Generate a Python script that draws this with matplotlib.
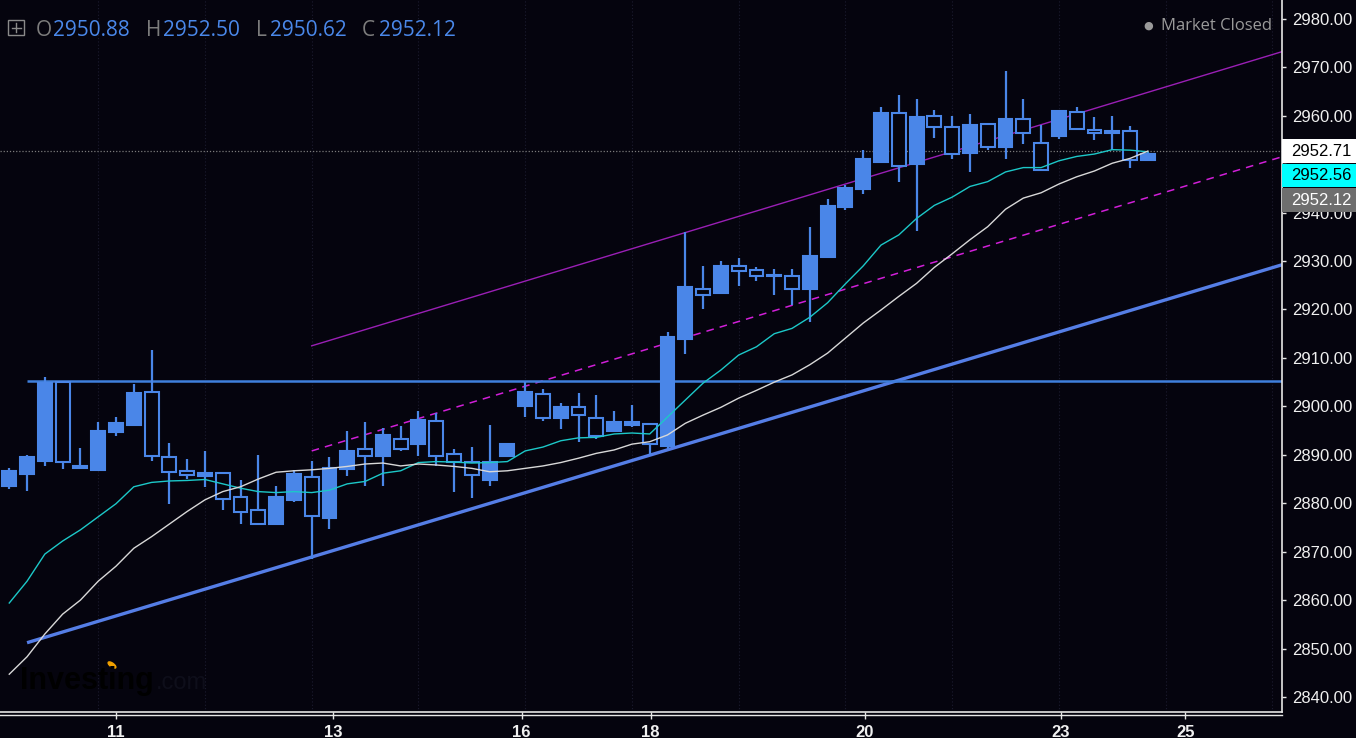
import matplotlib
matplotlib.use('Agg')
import matplotlib.pyplot as plt
from matplotlib.patches import Rectangle, Ellipse
from matplotlib.lines import Line2D
from matplotlib.transforms import blended_transform_factory, offset_copy

plt.rcParams['font.family'] = ['Liberation Sans', 'DejaVu Sans']

# 4-stunden-kerzen
opens = [2883.6, 2886.0, 2888.8, 2905.0, 2887.5, 2886.9, 2894.7, 2896.2, 2903.0, 2889.6,
         2886.6, 2885.7, 2886.2, 2881.2, 2878.7, 2875.7, 2880.7, 2885.5, 2877.0, 2887.0,
         2891.1, 2889.7, 2893.3, 2892.2, 2897.0, 2890.1, 2888.6, 2884.8, 2889.7, 2900.0,
         2902.6, 2897.5, 2899.8, 2897.6, 2895.0, 2896.2, 2896.4, 2891.8, 2913.9, 2924.3,
         2923.5, 2928.9, 2928.1, 2927.0, 2926.9, 2924.2, 2930.9, 2941.2, 2944.8, 2950.4,
         2960.5, 2950.1, 2959.9, 2957.7, 2952.4, 2958.4, 2953.6, 2959.3, 2954.4, 2955.8,
         2960.8, 2957.1, 2956.5, 2956.8, 2950.88]
highs = [2887.3, 2889.9, 2906.0, 2905.3, 2891.5, 2896.8, 2897.8, 2904.6, 2911.7, 2892.4,
         2889.2, 2890.8, 2886.3, 2884.7, 2889.9, 2883.6, 2886.9, 2888.8, 2889.6, 2894.9,
         2896.8, 2895.5, 2895.9, 2899.1, 2898.6, 2891.2, 2891.7, 2896.1, 2892.5, 2905.0,
         2903.5, 2900.6, 2902.8, 2902.4, 2899.0, 2900.3, 2896.6, 2915.4, 2936.1, 2929.0,
         2930.1, 2930.6, 2928.7, 2928.3, 2928.3, 2937.1, 2942.9, 2945.7, 2953.0, 2961.8,
         2964.3, 2963.4, 2961.2, 2960.0, 2960.4, 2958.6, 2969.3, 2963.4, 2958.1, 2961.1,
         2961.8, 2959.7, 2960.0, 2957.9, 2952.50]
lows = [2883.0, 2882.6, 2887.6, 2887.1, 2887.0, 2886.7, 2893.8, 2896.0, 2888.8, 2879.8,
        2885.1, 2883.4, 2878.6, 2875.8, 2875.6, 2875.6, 2880.3, 2868.4, 2874.6, 2885.7,
        2883.6, 2883.6, 2890.7, 2889.7, 2887.6, 2882.3, 2881.0, 2883.6, 2889.6, 2897.8,
        2896.9, 2895.3, 2892.6, 2893.2, 2894.9, 2895.8, 2889.9, 2891.2, 2910.8, 2920.0,
        2923.4, 2924.8, 2925.9, 2922.9, 2920.9, 2917.5, 2930.8, 2940.5, 2943.9, 2950.2,
        2946.4, 2936.2, 2955.4, 2951.1, 2948.3, 2952.9, 2951.1, 2954.2, 2948.6, 2955.2,
        2957.2, 2954.9, 2953.0, 2949.2, 2950.62]
closes = [2886.6, 2889.6, 2904.9, 2888.5, 2887.3, 2894.9, 2896.5, 2902.8, 2889.7, 2886.4,
          2885.8, 2886.2, 2880.8, 2878.2, 2875.8, 2881.3, 2886.0, 2877.4, 2887.2, 2890.8,
          2889.7, 2894.0, 2891.3, 2897.1, 2889.7, 2888.6, 2885.8, 2888.6, 2892.2, 2902.9,
          2897.5, 2899.9, 2898.3, 2893.9, 2896.7, 2896.7, 2892.2, 2914.4, 2924.7, 2923.0,
          2929.0, 2927.9, 2926.9, 2926.9, 2924.2, 2931.1, 2941.4, 2945.1, 2951.0, 2960.6,
          2949.6, 2959.7, 2957.7, 2952.1, 2958.1, 2953.6, 2959.3, 2956.5, 2948.7, 2960.9,
          2957.3, 2956.5, 2956.9, 2950.9, 2952.12]

# gleitende durchschnitte (tuerkis = schnell, weiss = langsam)
ma_fast = [2859.4, 2863.9, 2869.5, 2872.2, 2874.5, 2877.2, 2879.9, 2883.4, 2884.3, 2884.6,
           2884.7, 2884.9, 2884.0, 2883.1, 2882.4, 2882.2, 2882.4, 2882.2, 2882.7, 2884.0,
           2884.5, 2886.2, 2886.7, 2888.4, 2888.6, 2888.5, 2888.3, 2888.4, 2888.6, 2890.8,
           2891.6, 2892.9, 2893.5, 2893.6, 2894.3, 2894.5, 2894.3, 2897.8, 2901.3, 2904.8,
           2907.5, 2910.6, 2912.3, 2915.0, 2916.1, 2918.4, 2921.4, 2925.3, 2929.0, 2933.3,
           2935.4, 2938.8, 2941.5, 2943.2, 2945.4, 2946.4, 2948.4, 2949.3, 2949.3, 2950.7,
           2951.6, 2952.1, 2953.0, 2952.9, 2952.56]
ma_slow = [2844.7, 2848.3, 2853.0, 2857.1, 2860.0, 2863.9, 2867.0, 2870.7, 2873.1, 2875.7,
           2878.3, 2880.7, 2882.4, 2883.4, 2885.0, 2886.4, 2886.7, 2886.9, 2887.2, 2887.6,
           2888.1, 2888.3, 2887.7, 2888.1, 2887.9, 2887.6, 2887.2, 2886.5, 2886.7, 2887.2,
           2887.7, 2888.4, 2889.3, 2890.3, 2891.0, 2892.2, 2892.7, 2894.1, 2896.5, 2898.2,
           2899.8, 2901.7, 2903.3, 2905.0, 2906.5, 2908.6, 2911.0, 2914.1, 2917.2, 2919.9,
           2922.7, 2925.4, 2928.7, 2931.5, 2934.4, 2937.1, 2940.7, 2943.0, 2944.1, 2945.9,
           2947.4, 2948.6, 2950.2, 2951.2, 2952.71]

# gezeichnete linien: (start_idx, start_preis, end_idx, end_preis)
support_line = (1.0, 2851.2, 71.6, 2929.3)
channel_top = (17.0, 2912.5, 71.6, 2973.3)
channel_mid = (17.0, 2890.8, 71.6, 2951.6)
resistance_level = 2905.3
resistance_start = 1.0

day_labels = ['11', '13', '16', '18', '20', '23', '25']
day_pos = [6.0, 18.2, 28.8, 36.05, 48.1, 59.1, 66.1]

price_ticks = [2840, 2850, 2860, 2870, 2880, 2890, 2900, 2910, 2920, 2930, 2940, 2950, 2960, 2970, 2980]
hidden_ticks = [2950]  # liegt unter den kursboxen

last_labels = [('2952.71', '#ffffff', '#000000'),
               ('2952.56', '#00ffff', '#000000'),
               ('2952.12', '#6e6e6e', '#ffffff')]
ohlc = [('O', '2950.88'), ('H', '2952.50'), ('L', '2950.62'), ('C', '2952.12')]

bg = '#05040e'
blue = '#4a86e8'

W, H = 1356, 738
fig = plt.figure(figsize=(W / 100, H / 100), dpi=100, facecolor=bg)
ax = fig.add_axes([0, (H - 711.5) / H, 1282 / W, 711.5 / H])
ax.set_facecolor(bg)
ax.set_xlim(-0.52, 71.54)
ax.set_ylim(2837.0, 2983.9)

# gitter
for gx in range(5, 72, 6):
    ax.axvline(gx, color='#1c1c30', lw=0.8, ls=(0, (1, 2)), zorder=0)

# trendlinien
ax.plot([support_line[0], support_line[2]], [support_line[1], support_line[3]],
        color='#557ee6', lw=2.4, zorder=2, solid_capstyle='butt')
ax.plot([channel_top[0], channel_top[2]], [channel_top[1], channel_top[3]],
        color='#9a1fb5', lw=1.0, zorder=2)
ax.plot([channel_mid[0], channel_mid[2]], [channel_mid[1], channel_mid[3]],
        color='#d11fd8', lw=1.1, ls=(0, (5, 4)), zorder=2)
ax.plot([resistance_start, 72], [resistance_level, resistance_level],
        color='#3f7fdc', lw=1.8, zorder=2, solid_capstyle='butt')

# gleitende durchschnitte
x = list(range(len(closes)))
ax.plot(x, ma_fast, color='#1cc8c8', lw=1.0, zorder=5)
ax.plot(x, ma_slow, color='#d8d8d8', lw=1.0, zorder=5)

# kerzen: gefuellt = steigend, hohl = fallend
for i, (o, h, l, c) in enumerate(zip(opens, highs, lows, closes)):
    ax.vlines(i, l, h, color=blue, lw=1.6, zorder=3)
    lo = min(o, c)
    hgt = max(abs(c - o), 0.3)
    face = blue if c >= o else bg
    ax.add_patch(Rectangle((i - 0.39, lo), 0.78, hgt, facecolor=face,
                           edgecolor=blue, lw=1.5, zorder=4))

# aktueller kurs (gepunktet)
ax.axhline(float(last_labels[0][0]), color='#7a7a7a', lw=0.9, ls=(0, (1, 1.5)), zorder=1)

# achsen
for s in ['top', 'left']:
    ax.spines[s].set_visible(False)
ax.spines['right'].set_color('#e6e6e6')
ax.spines['bottom'].set_color('#e6e6e6')
ax.spines['right'].set_linewidth(1.2)
ax.spines['bottom'].set_linewidth(1.2)
ax.yaxis.tick_right()
ax.set_yticks(price_ticks)
ax.set_yticklabels(['' if p in hidden_ticks else '%.2f' % p for p in price_ticks])
ax.tick_params(axis='y', colors='#e6e6e6', labelcolor='#f0f0f0', length=3, width=1,
               pad=4, labelsize=12)
ax.set_xticks(day_pos)
ax.set_xticklabels(day_labels, fontweight='bold')
ax.tick_params(axis='x', colors='#e6e6e6', labelcolor='#f0f0f0', length=5, width=1,
               pad=5, labelsize=12)
fig.add_artist(Line2D([0, 1282 / W], [1 - 714.5 / H, 1 - 714.5 / H],
                      color='#e6e6e6', lw=1.0, transform=fig.transFigure))

# kursboxen rechts
trans = blended_transform_factory(ax.transAxes, ax.transData)
anchor = float(last_labels[0][0])
for k, (txt, fc, tc) in enumerate(last_labels):
    t = offset_copy(trans, fig=fig, x=0, y=-24.5 * k, units='dots')
    ax.add_patch(Rectangle((1.0, anchor - 2.45), 0.06, 4.9, transform=t,
                           facecolor=fc, edgecolor='none', clip_on=False, zorder=10))
    ax.text(1.0075, anchor, txt, transform=t, color=tc, fontsize=12,
            va='center', ha='left', clip_on=False, zorder=11)

# kopfzeile
fig.add_artist(Rectangle((8 / W, 1 - 35 / H), 16 / W, 15 / H, transform=fig.transFigure,
                         facecolor='none', edgecolor='#8a8a8a', lw=1.0))
fig.add_artist(Line2D([16 / W, 16 / W], [1 - 32 / H, 1 - 23 / H], color='#8a8a8a',
                      lw=1.0, transform=fig.transFigure))
fig.add_artist(Line2D([11.5 / W, 20.5 / W], [1 - 27.5 / H, 1 - 27.5 / H], color='#8a8a8a',
                      lw=1.0, transform=fig.transFigure))
letter_x = [36, 146, 256, 362]
value_x = [53, 163, 270, 379]
for (lab, val), lx, vx in zip(ohlc, letter_x, value_x):
    fig.text(lx / W, 1 - 36 / H, lab, color='#7c7c7c', fontsize=15, family='Open Sans',
             va='baseline')
    fig.text(vx / W, 1 - 36 / H, val, color='#4a88ea', fontsize=15,
             family='Open Sans', va='baseline')

fig.text(1148 / W, 1 - 25.5 / H, '●', color='#9a9a9a', fontsize=8, ha='center', va='center',
         family='DejaVu Sans')
fig.text(1272 / W, 1 - 25.5 / H, 'Market Closed', color='#9a9a9a', fontsize=12,
         family='Open Sans', ha='right', va='center')

# logo
fig.text(20 / W, 1 - 689 / H, 'Investing', color='#000000', fontsize=22, weight='bold',
         family='Liberation Sans', va='baseline')
fig.text(156 / W, 1 - 689 / H, '.com', color='#0e0e1a', fontsize=17,
         family='Liberation Sans', va='baseline')
fig.add_artist(Ellipse((112 / W, 1 - 665 / H), 5 / W, 7 / H, angle=30,
                       transform=fig.transFigure, color='#f0a000'))

fig.savefig('out.png', dpi=100, facecolor=bg)
